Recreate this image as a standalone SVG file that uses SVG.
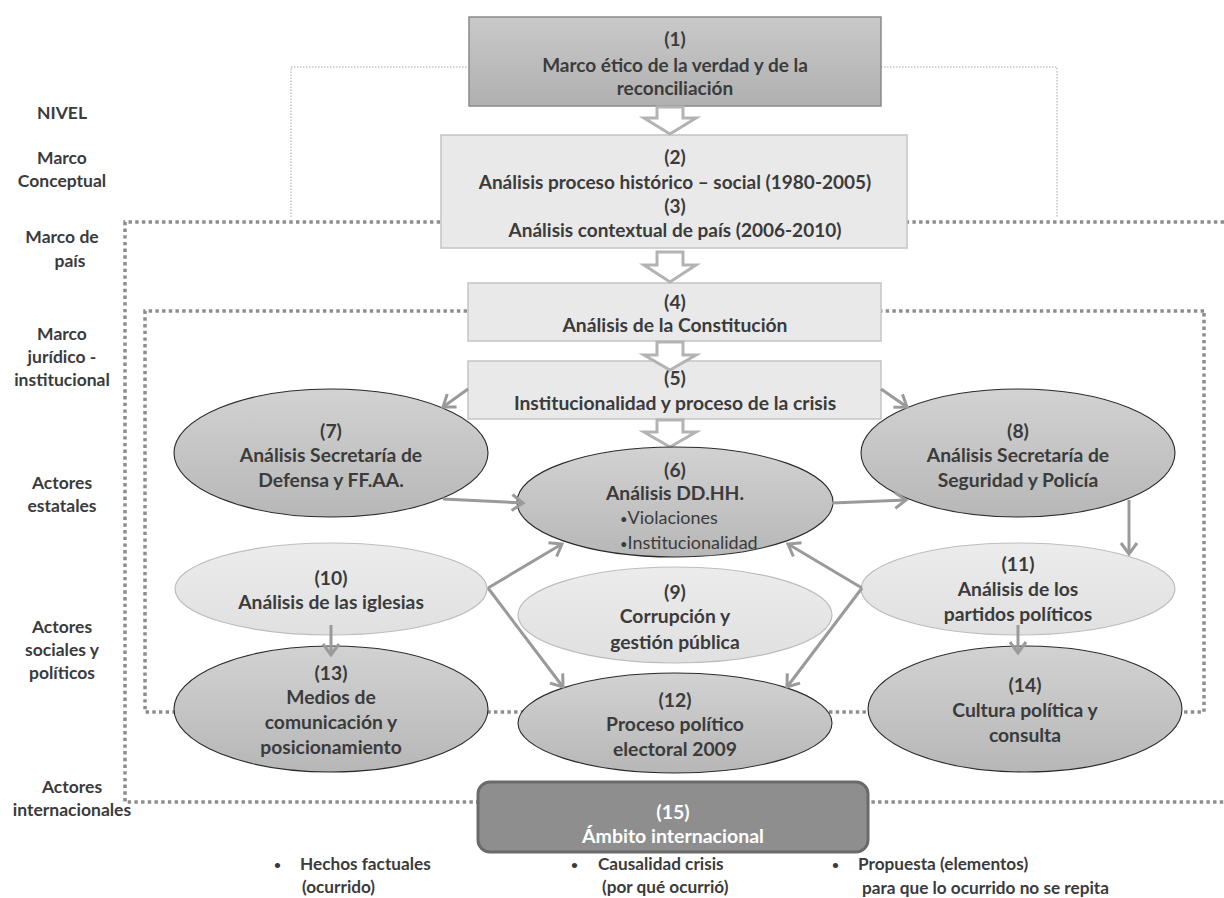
<svg xmlns="http://www.w3.org/2000/svg" width="1224" height="898" viewBox="0 0 1224 898">
<style>
text{font-family:Lato,"Liberation Sans",sans-serif;fill:#3b3b3b;text-anchor:middle}
.b{font-weight:bold;font-size:19.3px}
.lbl{font-weight:bold;font-size:17.5px}
.bx{font-weight:bold;font-size:19px}
.r{font-weight:normal;font-size:18px;text-anchor:start}
.w{fill:#ffffff;font-weight:bold;font-size:19.5px}
.ft{font-weight:bold;font-size:17.2px;text-anchor:start}
.bul{font-weight:bold;font-size:12px;text-anchor:start}
.dark{fill:url(#gd);stroke:#2a2a2a;stroke-width:1.1}
.light{fill:url(#gl);stroke:#bdbdbd;stroke-width:1.2}
.rectl{fill:#e9e9e9;stroke:#c4c4c4;stroke-width:1.5}
.blk{fill:#ffffff;stroke:#b3b3b3;stroke-width:3;stroke-linejoin:miter}
.con{stroke:#9a9a9a;stroke-width:3;fill:none;marker-end:url(#ah)}
.dot{fill:none;stroke:#8d8d8d;stroke-width:3.5;stroke-dasharray:3.4 3.3}
.thin{fill:none;stroke:#a8a8a8;stroke-width:1;stroke-dasharray:1.5 1.5}
</style>
<defs>
<linearGradient id="gd" x1="0" y1="0" x2="0" y2="1"><stop offset="0" stop-color="#d2d2d2"/><stop offset="1" stop-color="#b7b7b7"/></linearGradient>
<linearGradient id="gl" x1="0" y1="0" x2="0" y2="1"><stop offset="0" stop-color="#ececec"/><stop offset="1" stop-color="#e0e0e0"/></linearGradient>
<linearGradient id="g1" x1="0" y1="0" x2="0" y2="1"><stop offset="0" stop-color="#c9c9c9"/><stop offset="1" stop-color="#b0b0b0"/></linearGradient>
<marker id="ah" markerUnits="userSpaceOnUse" markerWidth="16" markerHeight="20" viewBox="0 0 16 20" refX="13" refY="10" orient="auto">
<path d="M2,2 L13,10 L2,18" fill="none" stroke="#9a9a9a" stroke-width="3"/>
</marker>
</defs>

<g id="frames">
<polyline class="thin" points="291,217 291,67 469,67"/>
<polyline class="thin" points="881,67 1057,67 1057,217"/>
<polyline class="dot" points="1224,222 125,222 125,802 1224,802"/>
<polyline class="dot" points="1204,311 145,311 145,712 1204,712 1204,311"/>
</g>

<g id="levels">
<text class="lbl" x="62" y="119">NIVEL</text>
<text class="lbl" x="62" y="164">Marco</text>
<text class="lbl" x="62" y="187">Conceptual</text>
<text class="lbl" x="62" y="243">Marco de</text>
<text class="lbl" x="70" y="267">país</text>
<text class="lbl" x="62" y="340">Marco</text>
<text class="lbl" x="62" y="363">jurídico -</text>
<text class="lbl" x="62" y="386">institucional</text>
<text class="lbl" x="62" y="489">Actores</text>
<text class="lbl" x="62" y="512">estatales</text>
<text class="lbl" x="62" y="633">Actores</text>
<text class="lbl" x="62" y="656">sociales y</text>
<text class="lbl" x="62" y="679">políticos</text>
<text class="lbl" x="72" y="793">Actores</text>
<text class="lbl" x="72" y="816">internacionales</text>
</g>

<g id="n1">
<rect x="469" y="17" width="412" height="89" fill="url(#g1)" stroke="#8a8a8a" stroke-width="1.5"/>
<text class="bx" x="675" y="46">(1)</text>
<text class="bx" x="675" y="72">Marco ético de la verdad y de la</text>
<text class="bx" x="675" y="95">reconciliación</text>
</g>

<g id="n2">
<rect class="rectl" x="441" y="135" width="466" height="113"/>
<text class="bx" x="675" y="164">(2)</text>
<text class="bx" x="675" y="189">Análisis proceso  histórico – social (1980-2005)</text>
<text class="bx" x="675" y="213">(3)</text>
<text class="bx" x="675" y="237">Análisis contextual de país (2006-2010)</text>
</g>

<g id="n4">
<rect class="rectl" x="468" y="283" width="413" height="58"/>
<text class="b" x="675" y="309">(4)</text>
<text class="b" x="675" y="332">Análisis de la Constitución</text>
</g>

<g id="n5">
<rect class="rectl" x="468" y="361" width="413" height="58"/>
<text class="b" x="675" y="385">(5)</text>
<text class="b" x="675" y="410">Institucionalidad y proceso de la crisis</text>
</g>

<g id="blockarrows">
<path class="blk" d="M657,107 L683,107 L683,118 L696,118 L670,134 L644,118 L657,118 Z"/>
<path class="blk" d="M657,252 L683,252 L683,265 L696,265 L670,282 L644,265 L657,265 Z"/>
<path class="blk" d="M657,342 L683,342 L683,355 L696,355 L670,370 L644,355 L657,355 Z"/>
<path class="blk" d="M657,420 L683,420 L683,432 L696,432 L670,447 L644,432 L657,432 Z"/>
</g>

<g id="n7">
<ellipse class="dark" cx="331" cy="453" rx="157" ry="64"/>
<text class="b" x="331" y="438">(7)</text>
<text class="b" x="331" y="462">Análisis Secretaría de</text>
<text class="b" x="331" y="487">Defensa y FF.AA.</text>
</g>

<g id="n8">
<ellipse class="dark" cx="1018" cy="453" rx="157" ry="64"/>
<text class="b" x="1018" y="438">(8)</text>
<text class="b" x="1018" y="462">Análisis Secretaría de</text>
<text class="b" x="1018" y="487">Seguridad  y Policía</text>
</g>

<g id="n6">
<ellipse class="dark" cx="675" cy="502" rx="158" ry="55"/>
<text class="b" x="675" y="477">(6)</text>
<text class="b" x="675" y="500">Análisis DD.HH.</text>
<text class="r" x="620" y="524"><tspan font-size="13">•</tspan>Violaciones</text>
<text class="r" x="620" y="549"><tspan font-size="13">•</tspan>Institucionalidad</text>
</g>

<g id="n10">
<ellipse class="light" cx="331" cy="589" rx="156" ry="46"/>
<text class="b" x="331" y="585">(10)</text>
<text class="b" x="331" y="609">Análisis de las iglesias</text>
</g>

<g id="n11">
<ellipse class="light" cx="1018" cy="589" rx="157" ry="46"/>
<text class="b" x="1018" y="571">(11)</text>
<text class="b" x="1018" y="596">Análisis de los</text>
<text class="b" x="1018" y="621">partidos políticos</text>
</g>

<g id="n9">
<ellipse class="light" cx="675" cy="615" rx="157" ry="48"/>
<text class="b" x="675" y="599">(9)</text>
<text class="b" x="675" y="623">Corrupción y</text>
<text class="b" x="675" y="649">gestión pública</text>
</g>

<g id="n13">
<ellipse class="dark" cx="331" cy="709" rx="157" ry="63"/>
<text class="b" x="331" y="680">(13)</text>
<text class="b" x="331" y="704">Medios de</text>
<text class="b" x="331" y="729">comunicación y</text>
<text class="b" x="331" y="754">posicionamiento</text>
</g>

<g id="n12">
<ellipse class="dark" cx="675" cy="723" rx="157" ry="50"/>
<text class="b" x="675" y="707">(12)</text>
<text class="b" x="675" y="731">Proceso político</text>
<text class="b" x="675" y="756">electoral 2009</text>
</g>

<g id="n14">
<ellipse class="dark" cx="1025" cy="709" rx="157" ry="63"/>
<text class="b" x="1025" y="692">(14)</text>
<text class="b" x="1025" y="717">Cultura política y</text>
<text class="b" x="1025" y="742">consulta</text>
</g>

<g id="n15">
<rect x="478" y="782" width="390" height="70" rx="12" ry="12" fill="#8e8e8e" stroke="#6a6a6a" stroke-width="3"/>
<text class="w" x="673" y="819">(15)</text>
<text class="w" x="673" y="843">Ámbito internacional</text>
</g>

<g id="connectors">
<line class="con" x1="468" y1="389" x2="443" y2="407"/>
<line class="con" x1="881" y1="389" x2="907" y2="407"/>
<line class="con" x1="443" y1="499" x2="523" y2="503"/>
<line class="con" x1="832" y1="503" x2="906" y2="500"/>
<line class="con" x1="1129" y1="500" x2="1129" y2="554"/>
<line class="con" x1="331" y1="625" x2="331" y2="655"/>
<line class="con" x1="1018" y1="625" x2="1018" y2="653"/>
<line class="con" x1="488" y1="588" x2="562" y2="544"/>
<line class="con" x1="488" y1="588" x2="563" y2="687"/>
<line class="con" x1="862" y1="588" x2="788" y2="544"/>
<line class="con" x1="862" y1="588" x2="787" y2="687"/>
</g>

<g id="footer">
<text class="bul" x="274" y="869">•</text>
<text class="ft" x="300" y="870">Hechos factuales</text>
<text class="ft" x="302" y="893">(ocurrido)</text>
<text class="bul" x="571" y="869">•</text>
<text class="ft" x="598" y="870">Causalidad crisis</text>
<text class="ft" x="602" y="893">(por qué ocurrió)</text>
<text class="bul" x="832" y="869">•</text>
<text class="ft" x="858" y="870">Propuesta (elementos)</text>
<text class="ft" x="862" y="894">para que lo ocurrido no se repita</text>
</g>
</svg>
